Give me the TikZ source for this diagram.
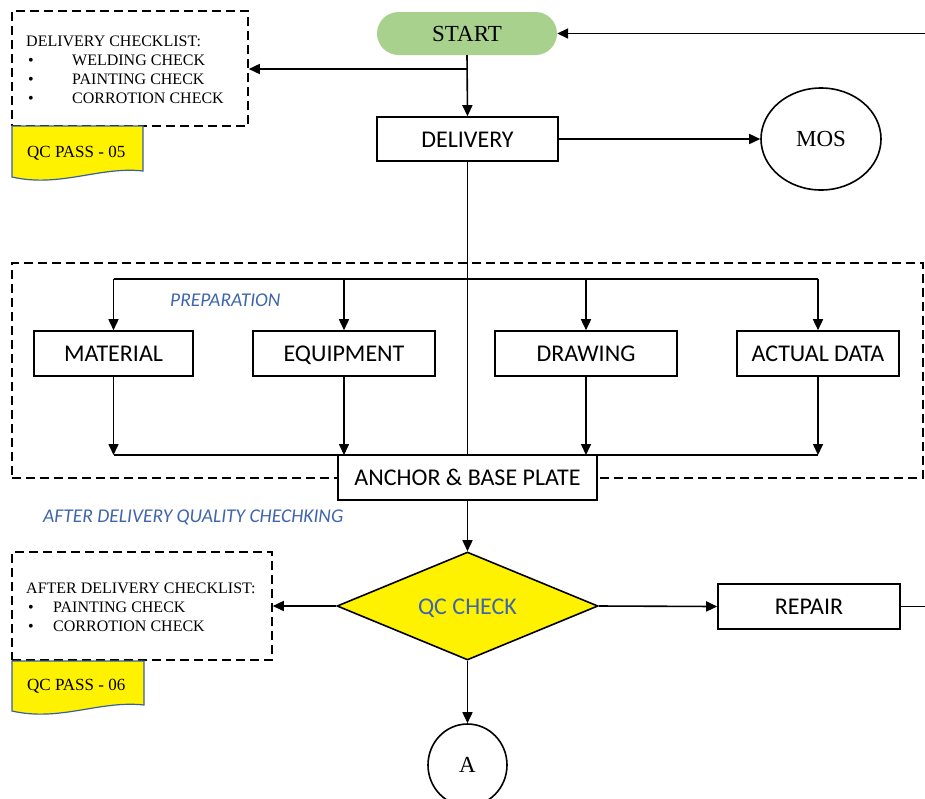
\documentclass[tikz,border=0pt]{standalone}
\usepackage{fontspec}
\setmainfont{Liberation Serif}
\newfontfamily\carl{Carlito}
\usetikzlibrary{shapes.geometric,arrows.meta}
\definecolor{startgreen}{HTML}{A9D18E}
\definecolor{labelblue}{HTML}{3F65AC}
\definecolor{docblue}{HTML}{3A5F9E}
\tikzset{
  conn/.style={line width=1.6pt},
  arr/.style={conn, -{Triangle[length=11pt,width=10pt]}},
  box/.style={draw, line width=1.6pt, fill=white, inner sep=0pt,
    text height=18pt, text depth=2pt,
    font=\carl\fontsize{24}{28}\selectfont},
  dashbox/.style={draw, line width=1.6pt, dash pattern=on 9pt off 5pt, inner sep=0pt},
  serifsmall/.style={font=\fontsize{16}{19}\selectfont, inner sep=0pt, anchor=base west},
  seriflarge/.style={font=\fontsize{23}{27}\selectfont},
  bluelabel/.style={font=\carl\itshape\fontsize{19.5}{23}\selectfont, text=labelblue, inner sep=0pt, anchor=base west},
  docshape/.style={fill=yellow, draw=docblue, line width=1.2pt},
  qctext/.style={font=\fontsize{17}{20}\selectfont, inner sep=0pt, anchor=base west}
}
\begin{document}
\begin{tikzpicture}[x=1pt,y=-1pt]
\useasboundingbox (0,0) rectangle (925,798);

% dashed containers
\node[dashbox, minimum width=236pt, minimum height=115pt] (cl1) at (130,68.5) {};
\node[dashbox, minimum width=911pt, minimum height=215pt] (prep) at (467.5,370.5) {};
\node[dashbox, minimum width=260pt, minimum height=108pt] (cl2) at (142,606) {};

% checklist 1 text
\node[serifsmall] (c1t) at (26,46.5) {DELIVERY CHECKLIST:};
\node[serifsmall] (c1b1) at (28,65.5) {•};
\node[serifsmall] (c1i1) at (72,65.5) {WELDING CHECK};
\node[serifsmall] (c1b2) at (28,84.5) {•};
\node[serifsmall] (c1i2) at (72,84.5) {PAINTING CHECK};
\node[serifsmall] (c1b3) at (28,103.5) {•};
\node[serifsmall] (c1i3) at (72,103.5) {CORROTION CHECK};

% checklist 2 text
\node[serifsmall] (c2t) at (26,593.5) {AFTER DELIVERY CHECKLIST:};
\node[serifsmall] (c2b1) at (28,612.5) {•};
\node[serifsmall] (c2i1) at (53,612.5) {PAINTING CHECK};
\node[serifsmall] (c2b2) at (28,631.5) {•};
\node[serifsmall] (c2i2) at (53,631.5) {CORROTION CHECK};

% QC pass documents
\path[docshape] (12,126) -- (143,126) -- (143,171)
  .. controls (100,166) and (60,188) .. (12,177) -- cycle;
\node[qctext] (qp1) at (27,157.5) {QC PASS - 05};
\path[docshape] (12,661) -- (144,661) -- (144,705)
  .. controls (100,700) and (60,722) .. (12,711) -- cycle;
\node[qctext] (qp2) at (27,690.5) {QC PASS - 06};

% main nodes
\node[fill=startgreen, rounded corners=21.5pt, minimum width=180pt, minimum height=43pt,
  inner sep=0pt, seriflarge] (start) at (467,33.5) {START};
\node[box, minimum width=181pt, minimum height=44pt] (delivery) at (467.5,139) {DELIVERY};
\node[draw, ellipse, line width=1.6pt, minimum width=120pt, minimum height=102pt,
  inner sep=0pt, seriflarge] (mos) at (821,139) {MOS};

\node[box, minimum width=159pt, minimum height=45pt] (material) at (113.5,353.5) {MATERIAL};
\node[box, minimum width=182pt, minimum height=45pt] (equip) at (344,353.5) {EQUIPMENT};
\node[box, minimum width=182pt, minimum height=45pt] (drawing) at (586,353.5) {DRAWING};
\node[box, minimum width=162pt, minimum height=45pt] (actual) at (818,353.5) {ACTUAL DATA};

\node[bluelabel] (preplabel) at (170,306.5) {PREPARATION};
\node[bluelabel] (adqc) at (43,522.5) {AFTER DELIVERY QUALITY CHECHKING};

% connectors top
\coordinate (rin) at (925,33.5);
\draw[arr] (rin) -- (start.east);
\draw[arr] (start.south) -- (delivery.north);
\coordinate (j1) at (467,69);
\draw[arr] (j1) -- (cl1.east |- j1);
\draw[arr] (delivery.east) -- (mos.west);

% branch
\coordinate (bl) at (113.5,279);
\coordinate (br) at (818,279);
\draw[conn] (bl) -- (br);
\draw[arr] (bl) -- (material.north);
\draw[arr] (equip.north |- bl) -- (equip.north);
\draw[arr] (drawing.north |- bl) -- (drawing.north);
\draw[arr] (br) -- (actual.north);

% merge
\coordinate (ml) at (113.5,455);
\coordinate (mr) at (818,455);
\draw[conn] (ml) -- (mr);
\draw[arr] (material.south) -- (ml);
\draw[arr] (equip.south) -- (equip.south |- ml);
\draw[arr] (drawing.south) -- (drawing.south |- ml);
\draw[arr] (actual.south) -- (mr);

\node[box, minimum width=259pt, minimum height=45pt] (anchor) at (467.5,477.5) {ANCHOR \& BASE PLATE};
\draw[conn] (delivery.south) -- (anchor.north);

% QC check
\node[diamond, draw, fill=yellow, line width=1.6pt, aspect=2.4, minimum width=261pt, minimum height=108pt,
  inner sep=0pt, text height=18pt, text depth=2pt, font=\carl\fontsize{24}{28}\selectfont, text=labelblue] (qc) at (467.5,606) {QC CHECK};
\node[box, minimum width=182pt, minimum height=45pt] (repair) at (809,606.5) {REPAIR};
\node[draw, ellipse, line width=1.6pt, minimum width=79pt, minimum height=82pt,
  inner sep=0pt, seriflarge] (a) at (467.5,765) {A};

\draw[arr] (anchor.south) -- (qc.north);
\draw[arr] (qc.west) -- (cl2.east);
\draw[arr] (qc.east) -- (repair.west);
\draw[arr] (qc.south) -- (a.north);
\coordinate (rout) at (925,606.5);
\draw[conn] (repair.east) -- (rout);
\end{tikzpicture}
\end{document}
